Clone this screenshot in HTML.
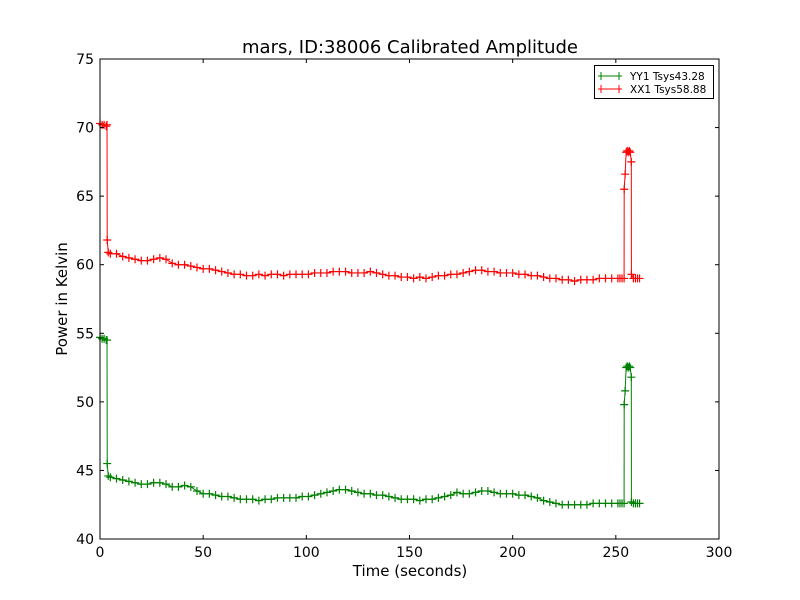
<!DOCTYPE html>
<html><head><meta charset="utf-8"><style>
html,body{margin:0;padding:0;background:#fff}
svg{display:block;font-family:"DejaVu Sans","Liberation Sans",sans-serif}
</style></head><body>
<svg id="chart" width="800" height="600"></svg>
<script>
const times=[0,1,2,3,3.4,3.5,4,5,8,11,14,17,20,23,26,29,32,35,38,41,44,47,50,53,56,59,62,65,68,71,74,77,80,83,86,89,92,95,98,101,104,107,110,113,116,119,122,125,128,131,134,137,140,143,146,149,152,155,158,161,164,167,170,173,176,179,182,185,188,191,194,197,200,203,206,209,212,215,218,221,224,227,230,233,236,239,242,245,248,251,252,253,254,254.05,254.5,255,255.5,256,256.5,257,257.5,257.55,258.5,259.5,260.5,261.5];
const xx1=[70.3,70.2,70.2,70.1,70.2,61.8,60.9,60.8,
60.8,60.6,60.5,60.4,60.3,60.3,60.4,60.5,60.4,60.1,60.0,60.0,59.9,59.8,59.7,59.7,59.6,59.5,59.4,59.3,59.3,59.2,59.2,59.3,59.2,59.3,59.3,59.2,59.3,59.3,59.3,59.3,59.4,59.4,59.4,59.5,59.5,59.5,59.4,59.4,59.4,59.5,59.4,59.3,59.2,59.2,59.1,59.1,59.0,59.1,59.0,59.1,59.2,59.2,59.3,59.3,59.4,59.5,59.6,59.6,59.5,59.5,59.4,59.4,59.4,59.3,59.3,59.2,59.2,59.1,59.0,59.0,58.9,58.9,58.8,58.9,58.9,58.9,59.0,59.0,59.0,59.0,
59.0,59.0,59.0,65.5,66.6,68.2,68.3,68.2,68.3,68.2,67.5,59.3,59.0,59.0,59.0,59.0];
const yy1=[54.7,54.6,54.6,54.5,54.5,45.5,44.6,44.5,
44.4,44.3,44.2,44.1,44.0,44.0,44.1,44.1,44.0,43.8,43.8,43.9,43.8,43.5,43.3,43.3,43.2,43.1,43.1,43.0,42.9,42.9,42.9,42.8,42.9,42.9,43.0,43.0,43.0,43.0,43.1,43.1,43.2,43.3,43.4,43.5,43.6,43.6,43.5,43.4,43.3,43.3,43.2,43.2,43.1,43.0,42.9,42.9,42.9,42.8,42.9,42.9,43.0,43.1,43.2,43.4,43.3,43.3,43.4,43.5,43.5,43.4,43.3,43.3,43.3,43.2,43.2,43.1,43.0,42.8,42.7,42.6,42.5,42.5,42.5,42.5,42.5,42.6,42.6,42.6,42.6,42.6,
42.6,42.6,42.6,49.8,50.8,52.5,52.6,52.5,52.6,52.5,51.8,42.7,42.6,42.6,42.6,42.6];
const xTicks=[0,50,100,150,200,250,300];
const yTicks=[40,45,50,55,60,65,70,75];

const L=100,R=719,T=59,B=539;
const sx=v=>L+(v-0)/(300-0)*(R-L);
const sy=v=>B-(v-40)/(75-40)*(B-T);
const svg=document.getElementById('chart');
const NS='http://www.w3.org/2000/svg';
function mk(tag,attrs,parent){const e=document.createElementNS(NS,tag);for(const k in attrs)e.setAttribute(k,attrs[k]);(parent||svg).appendChild(e);return e;}

let t=mk('text',{x:410,y:53,'text-anchor':'middle','font-size':18,fill:'#000'});t.textContent='mars, ID:38006 Calibrated Amplitude';


function series(vals,color,name){
  const g=mk('g',{});
  
  
  let d='';
  times.forEach((x,i)=>{d+=(i?'L':'M')+sx(x).toFixed(2)+' '+sy(vals[i]).toFixed(2);});
  mk('path',{d:d,fill:'none',stroke:color,'stroke-width':1},g);
  let m='';
  times.forEach((x,i)=>{const px=sx(x),py=sy(vals[i]);m+=`M${px-4} ${py}h8M${px} ${py-4}v8`;});
  const mp=mk('path',{d:m,fill:'none',stroke:color,'stroke-width':1.2},g);
  
  
}
series(xx1,'#ff0000','series-xx1');
series(yy1,'#008000','series-yy1');

const fr=mk('rect',{x:L,y:T,width:R-L,height:B-T,fill:'none',stroke:'#000','stroke-width':1});


xTicks.forEach(v=>{const x=sx(v);
  mk('line',{x1:x,x2:x,y1:B,y2:B-4,stroke:'#000'});
  mk('line',{x1:x,x2:x,y1:T,y2:T+4,stroke:'#000'});
  const e=mk('text',{x:x,y:B+18,'text-anchor':'middle','font-size':14});e.textContent=v;
  
});
yTicks.forEach(v=>{const y=sy(v);
  mk('line',{x1:L,x2:L+4,y1:y,y2:y,stroke:'#000'});
  mk('line',{x1:R,x2:R-4,y1:y,y2:y,stroke:'#000'});
  const e=mk('text',{x:L-6,y:y+5,'text-anchor':'end','font-size':14});e.textContent=v;
  
});
t=mk('text',{x:410,y:576,'text-anchor':'middle','font-size':15});t.textContent='Time (seconds)';

t=mk('text',{x:0,y:0,'text-anchor':'middle','font-size':15,transform:'translate(67,299) rotate(-90)'});t.textContent='Power in Kelvin';


const lg=mk('g',{});

mk('rect',{x:594.5,y:65.5,width:119,height:33,fill:'#fff',stroke:'#000'},lg);
[['YY1 Tsys43.28','#008000',76],['XX1 Tsys58.88','#ff0000',89]].forEach(([lab,c,y])=>{
  const e=mk('g',{},lg);
  
  mk('line',{x1:598,x2:622,y1:y,y2:y,stroke:c},e);
  mk('line',{x1:601,x2:601,y1:y-4,y2:y+4,stroke:c},e);
  mk('line',{x1:619,x2:619,y1:y-4,y2:y+4,stroke:c},e);
  const tx=mk('text',{x:630,y:y+4,'font-size':10.5},e);tx.textContent=lab;
});
</script>
</body></html>
